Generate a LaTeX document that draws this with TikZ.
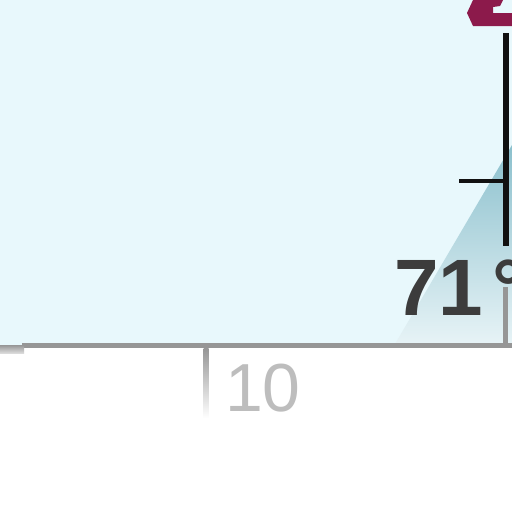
\documentclass[tikz,border=0pt]{standalone}
\usepackage{fontspec}
\newfontfamily\anglefont{Liberation Sans}
\definecolor{sky}{HTML}{E8F8FC}
\definecolor{beam}{HTML}{8BC0CD}
\definecolor{ground}{HTML}{969696}
\definecolor{lightgrey}{HTML}{BDBDBD}
\definecolor{darkgrey}{HTML}{3C3C3C}
\definecolor{wine}{HTML}{8C1A4B}
\definecolor{ink}{HTML}{111111}
\tikzstyle{base}=[inner sep=0pt, outer sep=0pt, x=1pt, y=-1pt]

\begin{document}
\begin{tikzpicture}[base]
    \anglefont
        \path [use as bounding box] (0,0) rectangle (512,512);
        \fill [sky] (0,0) rectangle (512,344);
        \fill [sky] (0,344) rectangle (24,347);
        \shade [top color=beam, bottom color=sky!60!beam!40!white] (395,344) -- (512,145) -- (512,344) -- cycle;
        \fill [ground] (22,343) rectangle (512,348);
        \shade [top color=ground, bottom color=ground!35] (0,345) rectangle (24,353);
        \shade [top color=ground, bottom color=white] (203.5,348) rectangle (208.5,418);
        \draw [ink, line width=6pt] (505.5,33) -- (505.5,246);
        \draw [ink, line width=4.5pt] (459,181) -- (505.5,181);
        \draw [ground, line width=4.5pt] (505.5,287) -- (505.5,343);
        \fill [wine] (473,0) -- (503,0) -- (500,6) -- (493,7) -- (493,13) -- (512,13)
            -- (512,26) -- (473,26) -- (467,13) -- cycle;
        \node [darkgrey, font=\bfseries\fontsize{80}{80}\selectfont, anchor=base west] (angle) at (394,315) {71\kern10pt°};
        \node [lightgrey, font=\fontsize{68}{68}\selectfont, anchor=base west] (ticklabel) at (225,411) {10};
    \end{tikzpicture}
\end{document}
